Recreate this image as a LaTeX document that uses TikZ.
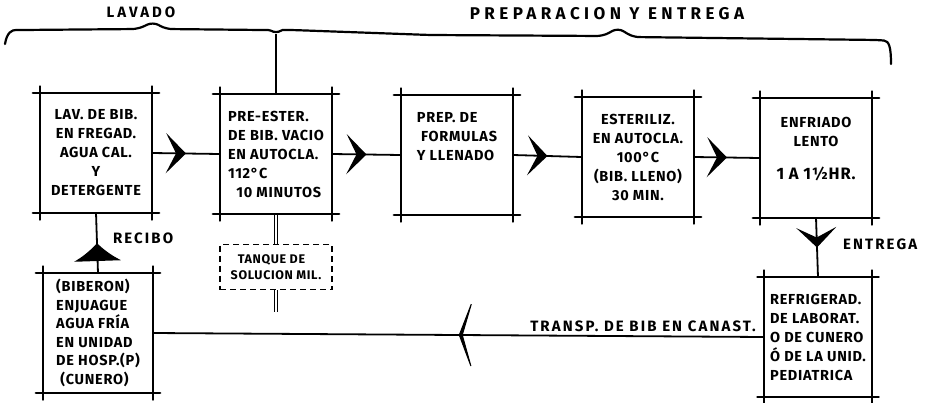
\documentclass[tikz,border=0pt]{standalone}
\usepackage{fontspec}
\setmainfont{Fira Sans}
\newfontfamily\hand[LetterSpace=5]{Fira Sans}
\usetikzlibrary{arrows.meta,positioning,decorations.markings}

% hand-drafted frame: edges run past the corners
\newcommand\overhang[1]{%
  \draw[frame] ([xshift=-7pt]#1.north west) -- ([xshift=7pt]#1.north east);
  \draw[frame] ([xshift=-7pt]#1.south west) -- ([xshift=7pt]#1.south east);
  \draw[frame] ([yshift=7pt]#1.north west) -- ([yshift=-7pt]#1.south west);
  \draw[frame] ([yshift=7pt]#1.north east) -- ([yshift=-7pt]#1.south east);}

\begin{document}
\begin{tikzpicture}[
    x=1pt,y=-1pt,
    frame/.style={line width=2.2pt,line cap=round},
    stage/.style={rectangle,minimum width=112pt,minimum height=119pt,inner sep=1pt,
      align=center,font=\hand\bfseries\fontsize{14.5}{19}\selectfont},
    tank/.style={rectangle,draw,dash pattern=on 6pt off 4pt,line width=1.8pt,minimum width=112pt,
      minimum height=45pt,align=left,font=\hand\bfseries\fontsize{12.5}{16}\selectfont},
    flow/.style={line width=1.8pt},
    midarrow/.style={decoration={markings,mark=at position 0.5 with
      {\arrow{Stealth[length=20pt,width=40pt,inset=10pt]}}},postaction={decorate}},
    note/.style={font=\hand\bfseries\fontsize{15}{17}\selectfont\addfontfeature{LetterSpace=14}}
]
    \useasboundingbox[fill=white] (0,0) rectangle (941,402);

    % top row
    \node[stage] (wash) at (96,153) {LAV. DE BIB.\\EN FREGAD.\\AGUA CAL.\\Y\\DETERGENTE};
    \node[stage,align=left] (prester) at (276,154) {PRE-ESTER.\\DE BIB. VACIO\\EN AUTOCLA.\\112°C\\\ \ 10 MINUTOS};
    \node[stage,align=left] (prep) at (457,155) {PREP. DE\\\ FORMULAS\\Y LLENADO\\~\\~};
    \node[stage] (steril) at (638,157) {ESTERILIZ.\\EN AUTOCLA.\\100°C\\(BIB. LLENO)\\30 MIN.};
    \node[stage] (cool) at (816,158) {ENFRIADO\\LENTO\\[14pt]\fontsize{16.5}{18}\selectfont 1 A 1½HR.\\~};

    % bottom row
    \node[stage,minimum width=110pt,align=left,font=\hand\bfseries\fontsize{14.5}{18.5}\selectfont] (rinse) at (98,333) {(BIBERON)\\ENJUAGUE\\AGUA FRÍA\\EN UNIDAD\\DE HOSP.(P)\\\ (CUNERO)};
    \node[stage,minimum width=107pt,align=left] (fridge) at (818,337) {REFRIGERAD.\\DE LABORAT.\\O DE CUNERO\\Ó DE LA UNID.\\PEDIATRICA};
    \node[tank] (soln) at (276,267) {\ \ TANQUE DE\\SOLUCION MIL.};

    \overhang{wash}
    \overhang{prester}
    \overhang{prep}
    \overhang{steril}
    \overhang{cool}
    \overhang{rinse}
    \overhang{fridge}

    % main flow
    \draw[flow,midarrow] (wash.east) -- (prester.west);
    \draw[flow,midarrow] (prester.east) -- (prep.west);
    \draw[flow,midarrow] (prep.east) -- (steril.west);
    \draw[flow,midarrow] (steril.east) -- (cool.west);
    \draw[flow,midarrow] (cool.south) -- node[note,right=22pt,pos=0.45] {ENTREGA} (fridge.north);
    \draw[flow,decoration={markings,mark=at position 0.5 with
      {\arrow{Latex[length=18pt,width=48pt]}}},postaction={decorate}]
      (rinse.north) -- node[note,right=12pt,pos=0.58] {RECIBO} (wash.south);
    \draw[flow,decoration={markings,mark=at position 0.5 with
      {\arrow{Stealth[length=16pt,width=84pt,inset=12pt]}}},postaction={decorate}]
      (fridge.west) -- (rinse.east);
    \node[note,above left=2pt and 5pt of fridge.west] (transp) {TRANSP. DE BIB EN CANAST.};

    % tank line
    \coordinate (tankend) at (276,312);
    \foreach \dx in {-1.6,1.6}{
      \draw[line width=1.1pt] ([xshift=\dx pt]prester.south) -- ([xshift=\dx pt]soln.north);
      \draw[line width=1.1pt] ([xshift=\dx pt]soln.south) -- ([xshift=\dx pt]tankend);
    }

    % top brace
    \coordinate (cusp) at (276,34);
    \draw[line width=2.2pt,line cap=round,rounded corners=6pt]
      (5,44) .. controls (7,32) and (12,30) .. (22,30) -- (138,29) -- (153,22) -- (166,29)
      -- (262,30) .. controls (270,30) .. (cusp) .. controls (282,30) .. (292,30)
      -- (430,35) -- (603,36) -- (618,28) -- (633,37) -- (878,40)
      .. controls (889,41) and (891,47) .. (891,64);
    \draw[line width=2.2pt] (cusp) -- (prester.north);
    \node[note,font=\hand\bfseries\fontsize{15}{17}\selectfont\addfontfeature{LetterSpace=20}] (lavado) at (141,12) {LAVADO};
    \node[note,font=\hand\bfseries\fontsize{17}{19}\selectfont\addfontfeature{LetterSpace=26}] (prepent) at (607,14) {PREPARACION Y ENTREGA};
\end{tikzpicture}
\end{document}
